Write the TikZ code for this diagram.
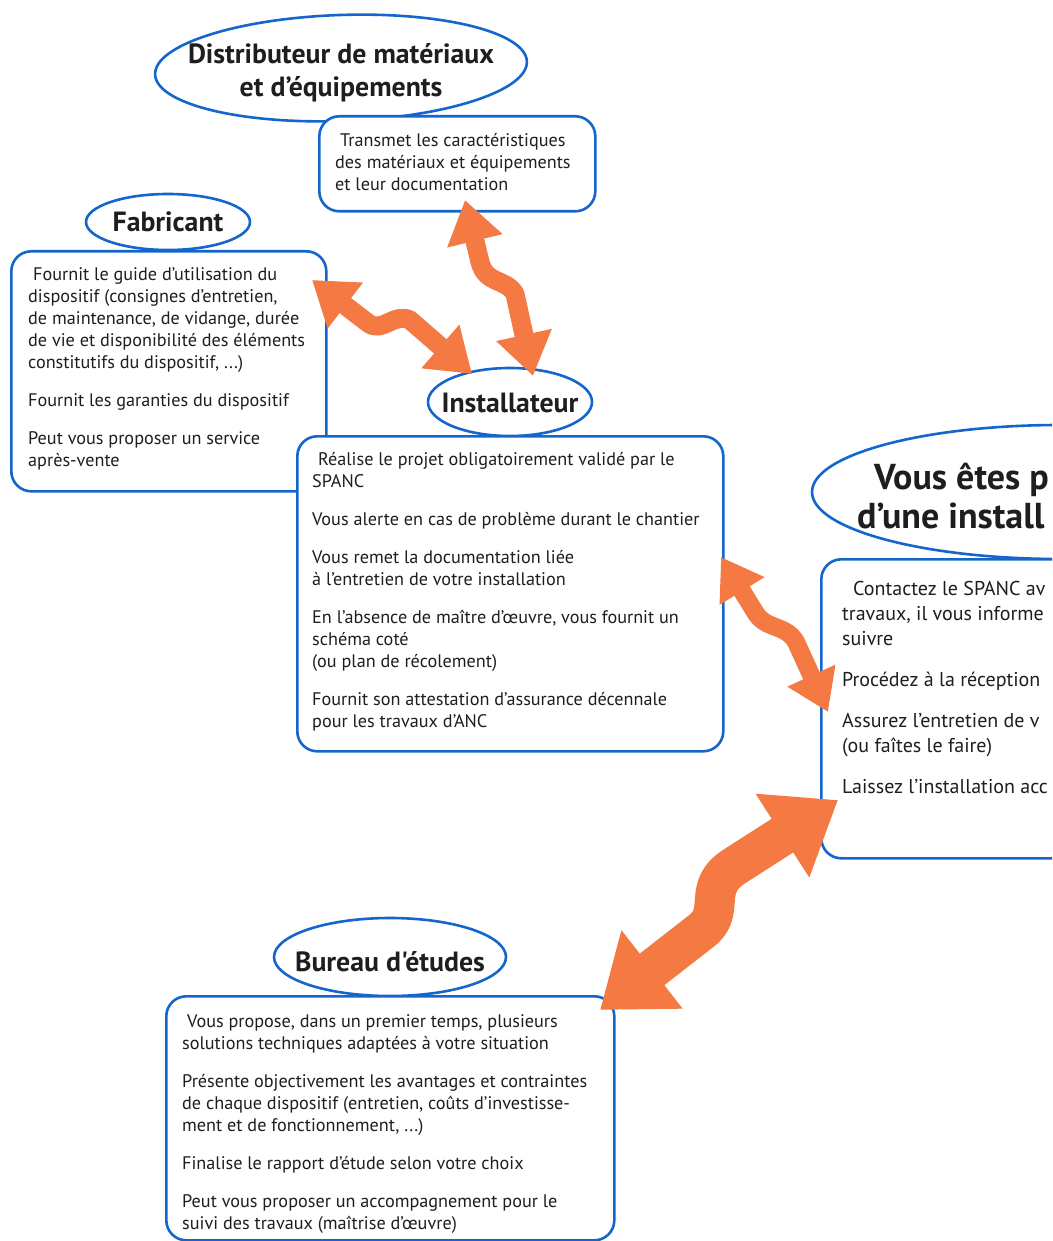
\documentclass[tikz,border=0pt]{standalone}
\usepackage{fontspec}
\setmainfont{PT Sans}[Ligatures=TeXOff]
\usetikzlibrary{shapes.geometric,arrows.meta}
\definecolor{bl}{RGB}{20,102,204}
\definecolor{orng}{RGB}{244,121,66}
\definecolor{tx}{RGB}{30,30,30}
\newcommand{\bodyf}{\fontsize{18.2}{22}\selectfont}
\newcommand{\rightf}{\fontsize{20}{25}\selectfont}
\newcommand{\titlef}{\fontsize{27.8}{33}\selectfont\bfseries}
\newcommand{\bigtitlef}{\fontsize{36}{39}\selectfont\bfseries}
\tikzset{
  boxshape/.style={draw=bl, line width=2.6pt, fill=white, rounded corners=20pt, rectangle, inner sep=0pt, anchor=north west},
  lblshape/.style={draw=bl, line width=2.6pt, fill=white, ellipse, inner sep=0pt},
  body/.style={anchor=north west, align=left, inner sep=0pt, font=\bodyf, text=tx},
  rbody/.style={anchor=north west, align=left, inner sep=0pt, font=\rightf, text=tx},
  ttl/.style={align=center, inner sep=0pt, font=\titlef, text=tx},
  bigttl/.style={anchor=base west, inner sep=0pt, font=\bigtitlef, text=tx},
  wavearrow/.style={draw=orng, line width=#1, line cap=butt, line join=round},
}
\begin{document}
\begin{tikzpicture}[x=1pt,y=-1pt]
\useasboundingbox (0,0) rectangle (1052,1241);
\clip (0,0) rectangle (1052,1241);

% ellipses (labels)
\node[lblshape, minimum width=372pt, minimum height=106pt, rotate=2] (distE) at (341,68) {};
\node[lblshape, minimum width=164pt, minimum height=56pt] (fabE) at (168,222) {};
\node[lblshape, minimum width=164pt, minimum height=68pt] (instE) at (510,402) {};
\node[lblshape, minimum width=232pt, minimum height=78pt] (bureE) at (390,957) {};
\node[lblshape, minimum width=496pt, minimum height=134pt] (vousE) at (1060,492) {};

% boxes
\node[boxshape, minimum width=276pt, minimum height=95pt] (transB) at (318,115) {};
\node[boxshape, minimum width=315pt, minimum height=240pt] (fabB) at (10,250) {};
\node[boxshape, minimum width=426pt, minimum height=315pt] (instB) at (296,435) {};
\node[boxshape, minimum width=300pt, minimum height=299pt] (vousB) at (820,558) {};
\node[boxshape, minimum width=448pt, minimum height=244pt] (bureB) at (165,995) {};

% titles
\node[ttl] (distT) at (341,73) {Distributeur de matériaux\\et d’équipements};
\node[ttl] (fabT) at (168,222) {Fabricant};
\node[ttl] (instT) at (510,403) {Installateur};
\node[ttl] (bureT) at (390,962) {Bureau d'études};
\node[bigttl] (vousT1) at (874,489) {Vous êtes p};
\node[bigttl] (vousT2) at (857,528) {d’une install};

% texts
\node[body] (transX) at (335,133) {\hspace{5pt}Transmet les caractéristiques\\des matériaux et équipements\\et leur documentation};
\node[body] (fabX) at (28,267) {\hspace{5pt}Fournit le guide d’utilisation du\\dispositif (consignes d’entretien,\\de maintenance, de vidange, durée\\de vie et disponibilité des éléments\\constitutifs du dispositif, ...)\\[16pt]Fournit les garanties du dispositif\\[16pt]Peut vous proposer un service\\après-vente};
\node[body] (instX) at (312,452) {\hspace{6pt}Réalise le projet obligatoirement validé par le\\SPANC\\[16pt]Vous alerte en cas de problème durant le chantier\\[16pt]Vous remet la documentation liée\\à l’entretien de votre installation\\[16pt]En l’absence de maître d’œuvre, vous fournit un\\schéma coté\\(ou plan de récolement)\\[16pt]Fournit son attestation d’assurance décennale\\pour les travaux d’ANC};
\node[rbody] (vousX) at (842,581) {\hspace{11pt}Contactez le SPANC av\\travaux, il vous informe\\suivre\\[16pt]Procédez à la réception\\[16pt]Assurez l’entretien de v\\(ou faîtes le faire)\\[16pt]Laissez l’installation acc};
\node[body] (bureX) at (182,1014) {\hspace{5pt}Vous propose, dans un premier temps, plusieurs\\solutions techniques adaptées à votre situation\\[16pt]Présente objectivement les avantages et contraintes\\de chaque dispositif (entretien, coûts d’investisse-\\ment et de fonctionnement, ...)\\[16pt]Finalise le rapport d’étude selon votre choix\\[16pt]Peut vous proposer un accompagnement pour le\\suivi des travaux (maîtrise d’œuvre)};

% arrow end points
\coordinate (a1s) at (312,280);
\coordinate (a1e) at (472,374);
\coordinate (a2s) at (465,200);
\coordinate (a2e) at (533,376);
\coordinate (a3s) at (721,557);
\coordinate (a3e) at (828,712);
\coordinate (a4s) at (838,800);
\coordinate (a4e) at (600,1010);

% wavy double arrows
\draw[wavearrow=19pt, {Triangle[width=55pt,length=42pt]}-{Triangle[width=55pt,length=42pt]}]
  (a1s) -- (368,323) .. controls (382,334) and (394,312) .. (410,320) -- (a1e);
\draw[wavearrow=19pt, {Triangle[width=54pt,length=42pt]}-{Triangle[width=54pt,length=42pt]}]
  (a2s) -- (480,262) .. controls (486,285) and (506,278) .. (515,294) -- (a2e);
\draw[wavearrow=18pt, {Triangle[width=50pt,length=40pt]}-{Triangle[width=50pt,length=40pt]}]
  (a3s) -- (755,612) .. controls (765,630) and (786,624) .. (796,642) -- (a3e);
\draw[wavearrow=40pt, {Triangle[width=95pt,length=66pt]}-{Triangle[width=95pt,length=66pt]}]
  (a4s) -- (735,866) .. controls (700,888) and (728,912) .. (700,932) -- (a4e);
\end{tikzpicture}
\end{document}
